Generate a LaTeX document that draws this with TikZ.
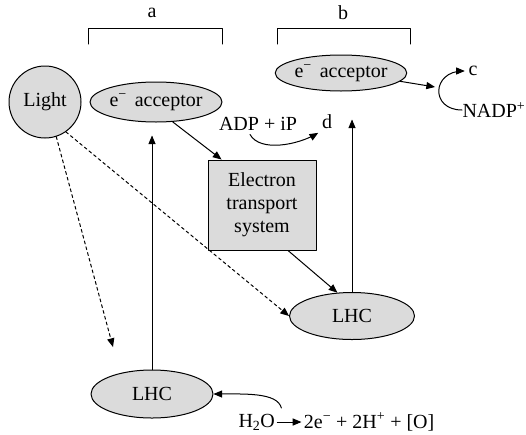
\documentclass[tikz,border=0pt]{standalone}
\usepackage{fontspec}
\setmainfont{Liberation Serif}
\usetikzlibrary{arrows,shapes.geometric}

\begin{document}
\begin{tikzpicture}[line cap=round,line join=round,>=triangle 45,x=1pt,y=-1pt,
    font=\fontsize{20}{23}\selectfont,line width=1pt,
    blob/.style={ellipse,draw,fill=black!14,inner sep=0pt},
    lightball/.style={circle,draw,fill=black!14,inner sep=0pt,minimum size=72pt},
    etsbox/.style={rectangle,draw,fill=black!14,align=center,minimum width=108pt,minimum height=90pt,inner sep=0pt}]
  \useasboundingbox (0,0) rectangle (526,434);
  % groups
  \node (a) at (152,13) {a};
  \node (b) at (343,13) {b};
  \draw (88,44) -- (88,28) -- (222,28) -- (222,44);
  \draw (277,44) -- (277,28) -- (410,28) -- (410,44);
  % main parts
  \node[lightball] (light) at (45,102) {Light};
  \node[blob,minimum width=132pt,minimum height=40pt] (accL) at (156,102) {e\textsuperscript{−}\hspace{3pt} acceptor};
  \node[blob,minimum width=127pt,minimum height=36pt] (accR) at (341,73) {e\textsuperscript{−}\hspace{3pt} acceptor};
  \node[etsbox] (ets) at (262,205) {Electron\\transport\\system};
  \node[blob,minimum width=125pt,minimum height=47pt] (lhcR) at (352,316) {LHC};
  \node[blob,minimum width=122pt,minimum height=48pt] (lhcL) at (152,394) {LHC};
  % labels
  \node (adp) at (258,124) {ADP + iP};
  \node (d) at (327,122) {d};
  \node (c) at (473,71) {c};
  \node[anchor=west,inner sep=0pt] (nadp) at (462,110) {NADP\textsuperscript{+}};
  \node[anchor=west,inner sep=0pt] (h2o) at (238,422) {H\textsubscript{2}O};
  \node[anchor=west,inner sep=0pt] (prod) at ([xshift=28pt]h2o.east) {2e\textsuperscript{−} + 2H\textsuperscript{+} + [O]};
  \coordinate (cturn) at (435,87);
  \coordinate (lhcLhint) at (113,347);
  \coordinate (split) at ([xshift=6pt,yshift=14pt]h2o.east);
  % connectors
  \draw[->] (accL.-50) -- ([xshift=14pt]ets.north west);
  \draw[->,shorten >=13pt] (lhcL.north) -- (lhcL.north |- accL.south);
  \draw[->,shorten >=28pt] (lhcR.north) -- (lhcR.north |- accR.south);
  \draw[->] ([xshift=26pt]ets.south) -- (lhcR.122);
  \draw[->,dashed] (light.-55) -- (lhcR.west);
  \draw[->,dashed] (light.-72) -- (lhcLhint);
  \draw[->] (accR.-8) -- (cturn);
  \draw[->] (nadp.west) .. controls +(-32,0) and +(-33,0) .. (c.west);
  \draw[->] ([xshift=-8pt]adp.south) .. controls +(10,18) and +(-20,12) .. (d.south west);
  \draw[->,shorten <=2pt,shorten >=2pt] (h2o) -- (prod);
  \draw[->] (split) .. controls +(-4,-16) and +(30,0) .. (lhcL.east);
\end{tikzpicture}
\end{document}
